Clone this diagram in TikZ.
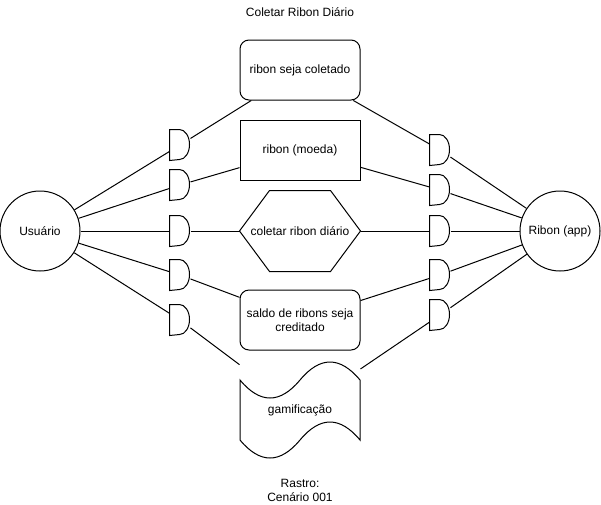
\documentclass[tikz,border=0pt]{standalone}
\usepackage{fontspec}
\setmainfont{Liberation Sans}

\tikzstyle{every node}=[inner sep=0pt, align=center, font=\fontsize{12}{14}\selectfont]
\tikzstyle{actor}=[circle, draw, minimum size=80pt]
\tikzstyle{box}=[rectangle, draw, minimum width=120pt, minimum height=60pt]
\tikzstyle{rbox}=[box, rounded corners=9pt]
\tikzstyle{gate}=[rectangle, minimum width=20pt, minimum height=30pt]
\tikzstyle{frame}=[rectangle, minimum width=120pt]

\begin{document}
\begin{tikzpicture}[x=1pt, y=-1pt, line width=1pt]
    \useasboundingbox (0,0) rectangle (601,504);
    \node at (300,12) (title) {Coletar Ribon Diário};
    \node[actor] (u) at (40,231) {Usuário};
    \node[actor] (a) at (560,231) {Ribon (app)};
    \node[gate] (l1) at (180,145) {};
    \node[gate] (l2) at (180,185) {};
    \node[gate] (l3) at (180,231) {};
    \node[gate] (l4) at (180,275) {};
    \node[gate] (l5) at (180,320) {};
    \node[gate] (r1) at (440,150) {};
    \node[gate] (r2) at (440,190) {};
    \node[gate] (r3) at (440,231) {};
    \node[gate] (r4) at (440,275) {};
    \node[gate] (r5) at (440,315) {};
    \node[rbox] (b1) at (300,70) {ribon seja coletado};
    \node[box] (b2) at (300,150) {ribon (moeda)};
    \node[frame, minimum height=80pt] (b3) at (300,231) {coletar ribon diário};
    \node[rbox] (b4) at (300,320) {saldo de ribons seja\\creditado};
    \node[frame, minimum height=100pt] (b5) at (300,410) {gamificação};
    \node at (300,490) (foot) {Rastro:\\Cenário 001};
    % gates
    \foreach \g in {l1,l2,l3,l4,l5,r1,r2,r3,r4,r5}
      \draw (\g.north west) -- ([xshift=10pt]\g.north west)
        arc[start angle=90, end angle=-90, x radius=10pt, y radius=15pt]
        -- (\g.south west) -- cycle;
    % hexagon
    \draw (b3.west) -- ([xshift=30pt]b3.north west) -- ([xshift=-30pt]b3.north east)
      -- (b3.east) -- ([xshift=-30pt]b3.south east) -- ([xshift=30pt]b3.south west) -- cycle;
    % tape
    \draw (240,380) .. controls (260,404) and (280,404) .. (300,380)
      .. controls (320,356) and (340,356) .. (360,380) -- (360,440)
      .. controls (340,416) and (320,416) .. (300,440)
      .. controls (280,464) and (260,464) .. (240,440) -- cycle;
    \path[draw]
    (u) edge (l1)
    (u) edge (l2)
    (u) edge (l3)
    (u) edge (l4)
    (u) edge (l5)
    (l1) edge (b1)
    (l2) edge (b2)
    (l3) edge (b3)
    (l4) edge (b4)
    (l5) edge (b5)
    (b1) edge (r1)
    (b2) edge (r2)
    (b3) edge (r3)
    (b4) edge (r4)
    (b5) edge (r5)
    (r1) edge (a)
    (r2) edge (a)
    (r3) edge (a)
    (r4) edge (a)
    (r5) edge (a)
	;
\end{tikzpicture}
\end{document}
